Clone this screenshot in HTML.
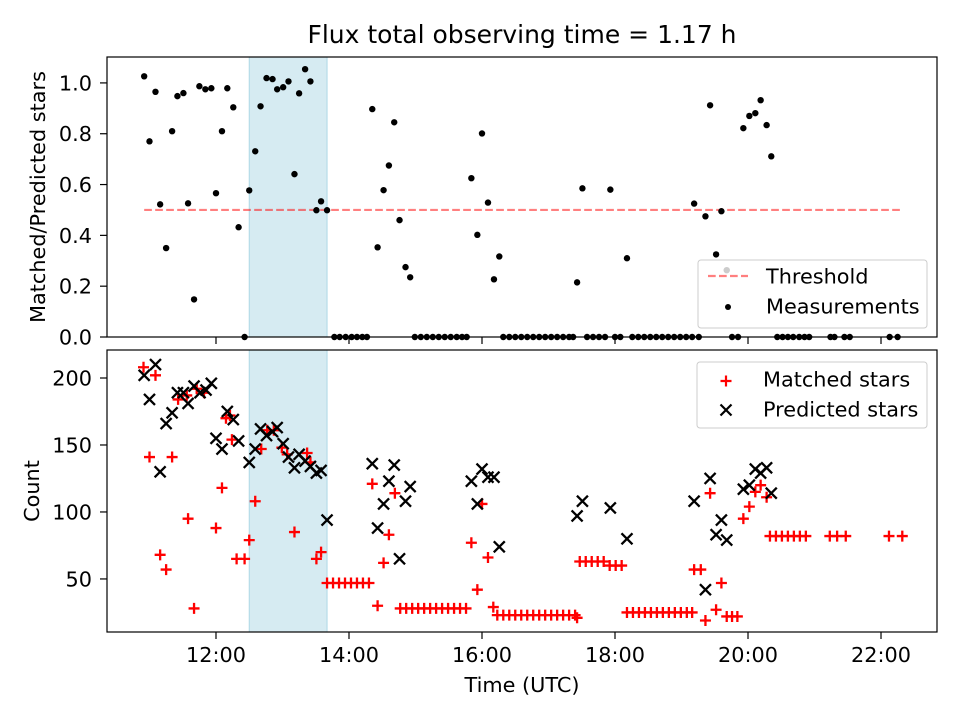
<!DOCTYPE html>
<html><head><meta charset="utf-8"><style>
body{margin:0;background:#fff}
svg{display:block;font-family:"DejaVu Sans","Liberation Sans",sans-serif}
</style></head><body>
<svg id="c" width="960" height="720" viewBox="0 0 960 720"></svg>
<script>
const ratioTimes=[10.92,11.09,11.00,11.16,11.25,11.34,11.42,11.51,11.58,11.67,11.75,11.84,11.93,12.00,12.09,12.17,12.26,12.34,12.43,12.50,12.59,12.67,12.76,12.85,12.92,13.01,13.09,13.18,13.25,13.34,13.42,13.51,13.58,13.67,13.78,13.86,13.95,14.04,14.12,14.20,14.27,14.35,14.43,14.52,14.60,14.68,14.76,14.85,14.92,14.99,15.08,15.17,15.26,15.35,15.44,15.53,15.62,15.70,15.77,15.84,15.93,16.00,16.09,16.18,16.26,16.32,16.41,16.50,16.59,16.68,16.77,16.86,16.95,17.04,17.13,17.22,17.31,17.37,17.43,17.51,17.58,17.67,17.76,17.85,17.93,18.00,18.08,18.18,18.26,18.35,18.44,18.53,18.62,18.71,18.80,18.89,18.98,19.07,19.16,19.19,19.26,19.36,19.43,19.52,19.60,19.68,19.76,19.85,19.93,20.02,20.11,20.19,20.28,20.35,20.44,20.52,20.60,20.68,20.77,20.85,20.92,21.24,21.30,21.45,21.53,22.13,22.25];
const ratioValues=[1.026,0.965,0.770,0.522,0.350,0.810,0.948,0.960,0.526,0.148,0.987,0.975,0.979,0.566,0.810,0.979,0.904,0.432,0,0.577,0.731,0.908,1.019,1.015,0.975,0.983,1.006,0.641,0.959,1.054,1.006,0.499,0.534,0.499,0,0,0,0,0,0,0,0.897,0.353,0.578,0.675,0.845,0.460,0.275,0.235,0,0,0,0,0,0,0,0,0,0,0.625,0.402,0.801,0.529,0.227,0.317,0,0,0,0,0,0,0,0,0,0,0,0,0,0.215,0.585,0,0,0,0,0.580,0,0,0.310,0,0,0,0,0,0,0,0,0,0,0,0.525,0,0.475,0.912,0.325,0.495,0.263,0,0,0.822,0.870,0.881,0.932,0.834,0.711,0,0,0,0,0,0,0,0,0,0,0,0,0];
const matchedTimes=[10.91,11.09,11.00,11.34,11.16,11.25,11.58,11.67,11.43,11.56,11.71,11.82,12.21,12.24,12.09,12.00,12.59,12.50,12.31,12.43,12.15,13.18,12.68,12.77,12.87,12.99,13.07,13.37,13.42,13.51,13.58,13.67,13.76,13.85,13.94,14.03,14.12,14.21,14.30,14.35,14.43,14.52,14.69,14.60,14.77,14.86,14.95,15.04,15.13,15.22,15.31,15.40,15.49,15.58,15.67,15.76,15.84,15.93,16.00,16.09,16.17,16.23,16.32,16.41,16.50,16.59,16.68,16.77,16.86,16.95,17.04,17.13,17.22,17.31,17.40,17.43,17.47,17.56,17.65,17.74,17.83,17.92,18.01,18.10,18.18,18.27,18.36,18.45,18.54,18.63,18.72,18.81,18.90,18.99,19.08,19.16,19.19,19.29,19.36,19.43,19.52,19.60,19.68,19.76,19.84,19.93,20.02,20.11,20.19,20.28,20.33,20.42,20.51,20.60,20.69,20.78,20.87,21.23,21.34,21.47,22.12,22.32];
const matchedValues=[208,202,141,141,68,57,95,28,184,187,192,189,172,154,118,88,108,79,65,65,170,85,147,161,161,148,143,144,137,65,70,47,47,47,47,47,47,47,47,121,30,62,114,83,28,28,28,28,28,28,28,28,28,28,28,28,77,42,106,66,29,23,23,23,23,23,23,23,23,23,23,23,23,23,23,21,63,63,63,63,63,60,60,60,25,25,25,25,25,25,25,25,25,25,25,25,57,57,19,114,27,47,22,22,22,95,104,115,120,111,82,82,82,82,82,82,82,82,82,82,82,82];
const predTimes=[10.92,11.09,11.00,11.16,11.25,11.34,11.42,11.51,11.58,11.67,11.76,11.85,11.93,12.00,12.09,12.17,12.26,12.34,12.50,12.59,12.67,12.76,12.85,12.92,13.01,13.09,13.18,13.25,13.34,13.42,13.51,13.58,13.67,14.35,14.43,14.52,14.60,14.68,14.76,14.85,14.92,15.84,15.93,16.00,16.09,16.18,16.26,17.43,17.51,17.93,18.18,19.19,19.36,19.43,19.52,19.60,19.68,19.93,20.02,20.11,20.19,20.28,20.35];
const predValues=[202,210,184,130,166,174,189,189,181,194,189,191,196,155,147,175,169,153,137,147,162,157,160,163,151,141,133,143,138,134,129,131,94,136,88,106,123,135,65,108,119,123,106,132,126,126,74,97,108,103,80,108,42,125,83,94,79,117,120,132,129,133,114];
const xTicks=[12,14,16,18,20,22];
const xTickLabels=["12:00","14:00","16:00","18:00","20:00","22:00"];
const yTopTicks=[0,0.2,0.4,0.6,0.8,1.0];
const yTopLabels=["0.0","0.2","0.4","0.6","0.8","1.0"];
const yBotTicks=[50,100,150,200];
const threshold=0.5, thrStart=10.92, thrEnd=22.3;
const spanStart=12.5, spanEnd=13.67;

const NS="http://www.w3.org/2000/svg";
const svg=document.getElementById('c');
function mk(tag,at,parent){const e=document.createElementNS(NS,tag);for(const k in at)e.setAttribute(k,at[k]);(parent||svg).appendChild(e);return e;}
const L=107,R=937,T1=57,B1=337,T2=350,B2=632;
const xMin=10.361,xMax=22.842;
const X=t=>L+(t-xMin)/(xMax-xMin)*(R-L);
const Y1=v=>B1-(v-0)/(1.102)*(B1-T1);
const Y2=v=>B2-(v-10.4)/(220.9-10.4)*(B2-T2);
const FS=20.8;

let e=mk('text',{x:522,y:43,'text-anchor':'middle','font-size':25,fill:'#000'});e.textContent="Flux total observing time = 1.17 h";


e=mk('rect',{x:X(spanStart),y:T1,width:X(spanEnd)-X(spanStart),height:B1-T1,fill:'#add8e6','fill-opacity':0.5,stroke:'#add8e6'});

e=mk('rect',{x:X(spanStart),y:T2,width:X(spanEnd)-X(spanStart),height:B2-T2,fill:'#add8e6','fill-opacity':0.5,stroke:'#add8e6'});


e=mk('line',{x1:X(thrStart),x2:X(thrEnd),y1:Y1(threshold),y2:Y1(threshold),stroke:'#ff0000','stroke-opacity':0.5,'stroke-width':2.2,'stroke-dasharray':'7.7,3.3'});


const gM=mk('g',{fill:'#000'});
ratioTimes.forEach((t,i)=>{const c=mk('circle',{cx:X(t),cy:Y1(ratioValues[i]),r:3.2},gM);
});

const gP=mk('g',{stroke:'#ff0000','stroke-width':2.3});
matchedTimes.forEach((t,i)=>{const x=X(t),y=Y2(matchedValues[i]);const p=mk('path',{d:`M${x-5.5},${y}H${x+5.5}M${x},${y-5.5}V${y+5.5}`},gP);
});
const gX=mk('g',{stroke:'#000','stroke-width':2.3});
predTimes.forEach((t,i)=>{const x=X(t),y=Y2(predValues[i]);const p=mk('path',{d:`M${x-5.5},${y-5.5}L${x+5.5},${y+5.5}M${x-5.5},${y+5.5}L${x+5.5},${y-5.5}`},gX);
});

e=mk('rect',{x:L,y:T1,width:R-L,height:B1-T1,fill:'none',stroke:'#000','stroke-width':1.2});

e=mk('rect',{x:L,y:T2,width:R-L,height:B2-T2,fill:'none',stroke:'#000','stroke-width':1.2});


xTicks.forEach((t,i)=>{const x=X(t);
mk('line',{x1:x,x2:x,y1:B1,y2:B1+7,stroke:'#000','stroke-width':1.2});
mk('line',{x1:x,x2:x,y1:B2,y2:B2+7,stroke:'#000','stroke-width':1.2});
const tx=mk('text',{x:x,y:B2+30,'text-anchor':'middle','font-size':FS});tx.textContent=xTickLabels[i];
});
yTopTicks.forEach((v,i)=>{const y=Y1(v);mk('line',{x1:L-7,x2:L,y1:y,y2:y,stroke:'#000','stroke-width':1.2});
const tx=mk('text',{x:L-15,y:y+7.5,'text-anchor':'end','font-size':FS});tx.textContent=yTopLabels[i];
});
yBotTicks.forEach(v=>{const y=Y2(v);mk('line',{x1:L-7,x2:L,y1:y,y2:y,stroke:'#000','stroke-width':1.2});
const tx=mk('text',{x:L-15,y:y+7.5,'text-anchor':'end','font-size':FS});tx.textContent=String(v);
});

e=mk('text',{x:522,y:692,'text-anchor':'middle','font-size':FS});e.textContent="Time (UTC)";

e=mk('text',{x:45,y:197,'text-anchor':'middle','font-size':FS,transform:'rotate(-90 45 197)'});e.textContent="Matched/Predicted stars";

e=mk('text',{x:39,y:491,'text-anchor':'middle','font-size':FS,transform:'rotate(-90 39 491)'});e.textContent="Count";


const lg1=mk('g',{});
mk('rect',{x:698,y:260,width:229,height:68,rx:3,fill:'#fff','fill-opacity':0.8,stroke:'#ccc'},lg1);
mk('line',{x1:708,x2:748,y1:276,y2:276,stroke:'#ff0000','stroke-opacity':0.5,'stroke-width':2.2,'stroke-dasharray':'7.7,3.3'},lg1);
mk('circle',{cx:728,cy:307,r:3},lg1);
e=mk('text',{x:766,y:283.5,'font-size':FS},lg1);e.textContent="Threshold";

e=mk('text',{x:766,y:313.5,'font-size':FS},lg1);e.textContent="Measurements";


const lg2=mk('g',{});
mk('rect',{x:697,y:362,width:230,height:66,rx:3,fill:'#fff','fill-opacity':0.8,stroke:'#ccc'},lg2);
mk('path',{d:'M720.5,381H731.5M726,375.5V386.5',stroke:'#ff0000','stroke-width':2.2},lg2);
mk('path',{d:'M720.5,404.5L731.5,415.5M720.5,415.5L731.5,404.5',stroke:'#000','stroke-width':2.2},lg2);
e=mk('text',{x:763,y:386.5,'font-size':FS},lg2);e.textContent="Matched stars";

e=mk('text',{x:763,y:416.5,'font-size':FS},lg2);e.textContent="Predicted stars";

</script>
</body></html>
